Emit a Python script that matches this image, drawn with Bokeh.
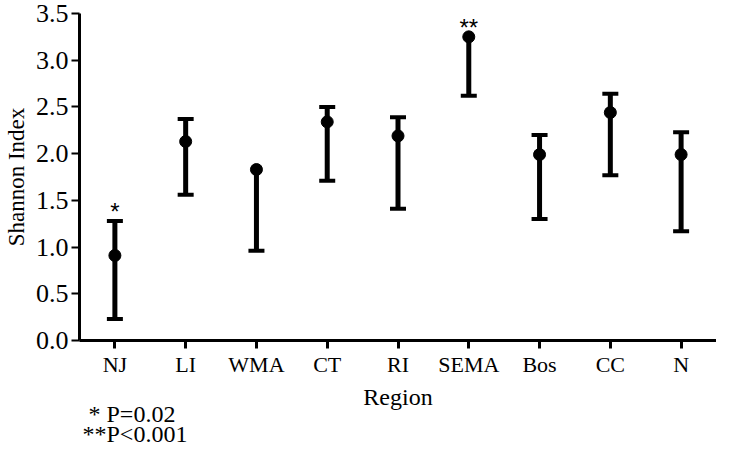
from bokeh.plotting import figure
from bokeh.models import FixedTicker, Range1d, Title
from bokeh.core.properties import value
from bokeh.embed import file_html
from bokeh.resources import INLINE

regions = ["NJ", "LI", "WMA", "CT", "RI", "SEMA", "Bos", "CC", "N"]
mean_vals = [0.91, 2.13, 1.83, 2.34, 2.19, 3.25, 1.99, 2.44, 1.99]
upper_vals = [1.28, 2.37, 1.83, 2.50, 2.39, 3.25, 2.20, 2.64, 2.23]
lower_vals = [0.23, 1.56, 0.96, 1.71, 1.41, 2.62, 1.30, 1.77, 1.17]
sig_marks = ["*", "", "", "", "", "**", "", "", ""]
y_ticks = [0.0, 0.5, 1.0, 1.5, 2.0, 2.5, 3.0, 3.5]
footnotes = ["* P=0.02", "**P<0.001"]

SERIF = "Liberation Serif"

p = figure(x_range=regions, y_range=Range1d(0, 3.5), width=716, height=452,
           output_backend="svg", toolbar_location=None,
           min_border_left=79, min_border_right=0, min_border_top=13,
           min_border_bottom=0)
p.outline_line_color = None
p.xgrid.visible = False
p.ygrid.visible = False
p.x_range.range_padding = 0

# stems
p.segment(x0=regions, y0=lower_vals, x1=regions, y1=upper_vals,
          line_color="black", line_width=5)
# lower caps
p.scatter(x=regions, y=lower_vals, marker="dash", size=16,
          line_color="black", line_width=4)
# upper caps (only where the bar extends above the mean)
ux = [r for r, u, m in zip(regions, upper_vals, mean_vals) if u > m]
uy = [u for u, m in zip(upper_vals, mean_vals) if u > m]
p.scatter(x=ux, y=uy, marker="dash", size=16, line_color="black", line_width=4)
# means
p.scatter(x=regions, y=mean_vals, marker="circle", size=12,
          fill_color="black", line_color="black")

# significance stars
sx = [r for r, s in zip(regions, sig_marks) if s]
sy = [max(u, m) + 0.10 for u, m, s in zip(upper_vals, mean_vals, sig_marks) if s]
st = [s for s in sig_marks if s]
p.text(x=sx, y=sy, text=st, text_align="center", text_baseline="middle",
       text_font=value("Liberation Sans"), text_font_size="24px",
       text_color="black")

# axes
for ax in (p.xaxis[0], p.yaxis[0]):
    ax.axis_line_width = 3
    ax.axis_line_color = "black"
    ax.major_tick_line_color = "black"
    ax.major_tick_in = 0
    ax.major_tick_out = 8
    ax.minor_tick_line_color = None
    ax.major_label_text_font = SERIF
    ax.axis_label_text_font = SERIF
    ax.axis_label_text_font_style = "normal"
    ax.axis_label_text_color = "black"
    ax.major_label_text_color = "black"

p.xaxis.major_tick_line_width = 3
p.yaxis.major_tick_line_width = 2
p.xaxis.major_label_text_font_size = "22px"
p.yaxis.major_label_text_font_size = "26px"
p.xaxis.axis_label = "Region"
p.yaxis.axis_label = "Shannon Index"
p.xaxis.axis_label_text_font_size = "24px"
p.yaxis.axis_label_text_font_size = "23px"
p.xaxis.major_label_standoff = 3
p.yaxis.major_label_standoff = 3
p.xaxis.axis_label_standoff = 4
p.yaxis.axis_label_standoff = 4
p.yaxis.ticker = FixedTicker(ticks=y_ticks)
p.yaxis.major_label_overrides = {t: f"{t:.1f}" for t in y_ticks}

# footnotes below the axis
p.add_layout(Title(text=footnotes[0], align="left", offset=9, standoff=-28,
                   text_font=SERIF, text_font_size="24px",
                   text_font_style="normal", text_color="black"), "below")
p.add_layout(Title(text=footnotes[1], align="left", offset=3, standoff=12,
                   text_font=SERIF, text_font_size="24px",
                   text_font_style="normal", text_color="black"), "below")

open("out.html", "w").write(file_html(p, INLINE))
